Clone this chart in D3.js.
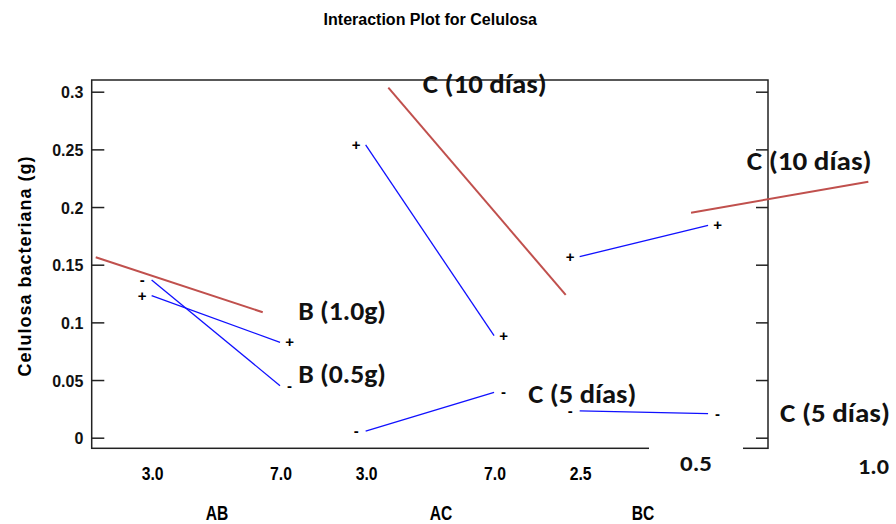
<!DOCTYPE html>
<html>
<head>
<meta charset="utf-8">
<script src="https://cdn.jsdelivr.net/npm/d3@7"></script>
<style>
  html, body { margin: 0; padding: 0; background: #fff; }
  svg { display: block; }
</style>
</head>
<body>
<svg id="chart" width="896" height="524"></svg>
<script>
// Interaction plot for Celulosa: each factor pair gets a low/high segment per level
const panels = ["AB", "AC", "BC"];
const levelLabels = [["3.0", "7.0"], ["3.0", "7.0"], ["2.5", ""]];
const lowSeries  = [[0.1368, 0.0451], [0.0058, 0.0394], [0.0232, 0.0208]]; // "-" level
const highSeries = [[0.1232, 0.0827], [0.2539, 0.0885], [0.1570, 0.1840]]; // "+" level
const seriesSymbols = ["-", "+"];

// red guide lines; x given in slot units of the shared horizontal axis
const trendX = [[-0.653, 1.298], [2.765, 4.837], [6.301, 8.372]];
const trendY = [[0.1565, 0.1088], [0.3036, 0.1238], [0.1951, 0.2220]];

const yTicks = [0, 0.05, 0.1, 0.15, 0.2, 0.25, 0.3];
const noteTexts = ["B (1.0g)", "B (0.5g)", "C (10 días)", "C (5 días)", "C (10 días)", "C (5 días)"];
const bcLevelNotes = ["0.5", "1.0"];

const svg = d3.select("#chart");
const frame = { left: 91.7, right: 768, top: 80, bottom: 448.3 };

const x = d3.scaleLinear().domain([-0.7, 7.2]).range([frame.left, frame.right]);
const y = d3.scaleLinear().domain([0, 0.3]).range([437.7, 91.7]);
const slot = (p, lvl) => p * 2.5 + lvl * 1.5;

const axisFont = "'Liberation Sans', Arial, sans-serif";
const noteFont = "Carlito, Lato, 'Open Sans', sans-serif";

// title
svg.append("text")
  .attr("x", 430.3).attr("y", 25)
  .attr("text-anchor", "middle")
  .style("font-family", axisFont).style("font-weight", "bold").style("font-size", "16px")
  .text("Interaction Plot for Celulosa");

// y-axis title
svg.append("text")
  .attr("transform", "translate(30.5,266) rotate(-90)")
  .attr("text-anchor", "middle")
  .style("font-family", axisFont).style("font-weight", "bold").style("font-size", "18px")
  .style("letter-spacing", "1px")
  .text("Celulosa bacteriana (g)");

// frame
svg.append("rect")
  .attr("x", frame.left).attr("y", frame.top)
  .attr("width", frame.right - frame.left).attr("height", frame.bottom - frame.top)
  .attr("fill", "none").attr("stroke", "#222").attr("stroke-width", 1.5);
// blank patch over the lower edge where the BC level note sits
svg.append("rect")
  .attr("x", 649).attr("y", frame.bottom - 4).attr("width", 94).attr("height", 8)
  .attr("fill", "#fff");

// left axis with inward ticks
const yAxisL = d3.axisLeft(y).tickValues(yTicks).tickSizeInner(-12.6).tickSizeOuter(0)
  .tickPadding(8.4).tickFormat(d3.format("~g"));
const gL = svg.append("g").attr("transform", `translate(${frame.left},0)`).call(yAxisL);
gL.select(".domain").remove();
gL.selectAll(".tick line").attr("stroke", "#222").attr("stroke-width", 1.5);
gL.selectAll(".tick text")
  .attr("dy", "0.38em")
  .style("font-family", axisFont).style("font-weight", "bold").style("font-size", "16px")
  .attr("fill", "#111");

// right axis, ticks only
const yAxisR = d3.axisRight(y).tickValues(yTicks).tickSizeInner(-12).tickSizeOuter(0).tickFormat("");
const gR = svg.append("g").attr("transform", `translate(${frame.right},0)`).call(yAxisR);
gR.select(".domain").remove();
gR.selectAll(".tick line").attr("stroke", "#222").attr("stroke-width", 1.5);

// level tick labels under each panel (condensed bold)
panels.forEach((p, i) => {
  levelLabels[i].forEach((lab, lvl) => {
    if (!lab) return;
    svg.append("text")
      .attr("transform", `translate(${x(slot(i, lvl)) + 1},480) scale(0.9,1)`)
      .attr("text-anchor", "middle")
      .style("font-family", axisFont).style("font-weight", "bold").style("font-size", "17.5px")
      .text(lab);
  });
});

// panel names
const panelNameX = [217, 441, 643];
panels.forEach((p, i) => {
  svg.append("text")
    .attr("transform", `translate(${panelNameX[i]},519.5) scale(0.8,1)`)
    .attr("text-anchor", "middle")
    .style("font-family", axisFont).style("font-weight", "bold").style("font-size", "19.5px")
    .text(p);
});

// red guide lines
const line = d3.line().x(d => x(d[0])).y(d => y(d[1]));
trendX.forEach((xs, i) => {
  svg.append("path")
    .attr("d", line(xs.map((v, k) => [v, trendY[i][k]])))
    .attr("fill", "none").attr("stroke", "#c0504d").attr("stroke-width", 2);
});

// interaction segments with level symbols at both ends
[lowSeries, highSeries].forEach((series, s) => {
  series.forEach((vals, i) => {
    const pts = vals.map((v, lvl) => [slot(i, lvl), v]);
    svg.append("path")
      .attr("d", line(pts))
      .attr("fill", "none").attr("stroke", "#1010ff").attr("stroke-width", 1.3);
    pts.forEach((pt, lvl) => {
      svg.append("text")
        .attr("x", x(pt[0]) + (lvl === 0 ? -9.5 : 9.5))
        .attr("y", y(pt[1]))
        .attr("dy", "0.33em")
        .attr("text-anchor", "middle")
        .style("font-family", axisFont).style("font-weight", "bold").style("font-size", "15px")
        .text(seriesSymbols[s]);
    });
  });
});

// annotations naming each line's level
const notePlace = [
  [298.3, 320, 87.7], [298.3, 383, 87.7], [422.7, 93.3, 124],
  [528.3, 403, 108], [746.7, 170, 125], [780, 422, 110]
];
noteTexts.forEach((t, i) => {
  const [nx, ny, nw] = notePlace[i];
  svg.append("text")
    .attr("x", nx).attr("y", ny)
    .attr("textLength", nw).attr("lengthAdjust", "spacingAndGlyphs")
    .style("font-family", noteFont).style("font-weight", "bold").style("font-size", "26px")
    .attr("fill", "#111")
    .text(t);
});

// B level notes beside the BC panel
const bcNotePlace = [[680, 470.5, 32], [858, 473.5, 31]];
bcLevelNotes.forEach((t, i) => {
  const [nx, ny, nw] = bcNotePlace[i];
  svg.append("text")
    .attr("x", nx).attr("y", ny)
    .attr("textLength", nw).attr("lengthAdjust", "spacingAndGlyphs")
    .style("font-family", noteFont).style("font-weight", "bold").style("font-size", "22px")
    .attr("fill", "#111")
    .text(t);
});
</script>
</body>
</html>
